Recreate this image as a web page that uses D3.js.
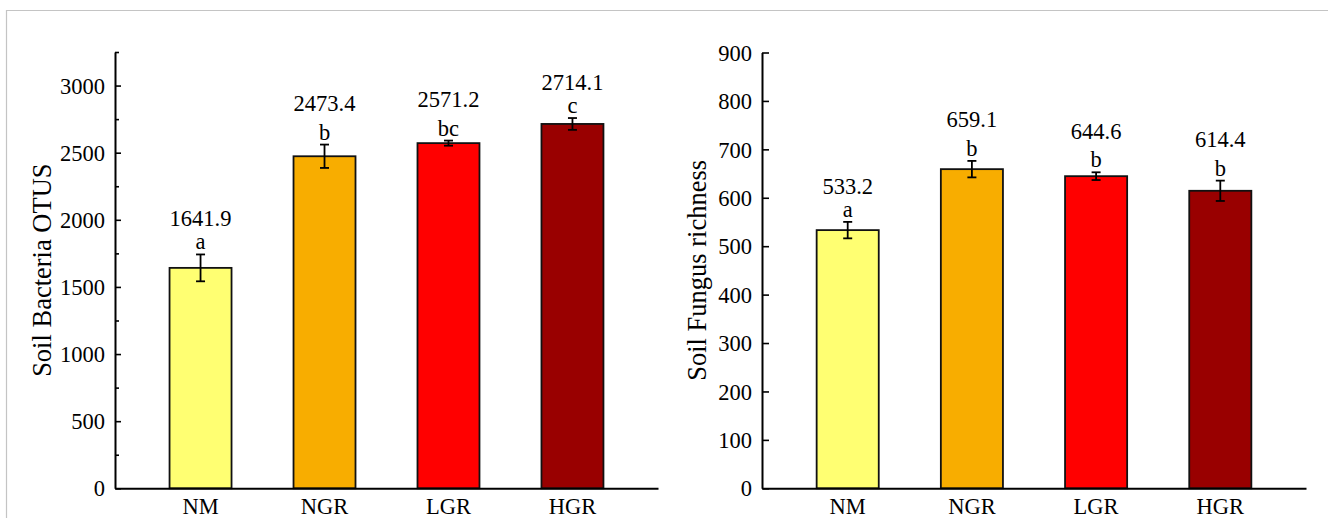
<!DOCTYPE html>
<html>
<head>
<meta charset="utf-8">
<script src="https://cdn.jsdelivr.net/npm/d3@7"></script>
<style>
  body { margin: 0; background: #fff; }
  text { font-family: "Liberation Serif", "Times New Roman", serif; fill: #000; }
</style>
</head>
<body>
<div id="chart"></div>
<script>
(function(){
"use strict"

// --- data ---
var groups = ["NM", "NGR", "LGR", "HGR"];
var barColors = ["#FFFF72", "#F8AD00", "#FF0000", "#990000"];

var bacteriaMean = [1641.9, 2473.4, 2571.2, 2714.1];
var bacteriaErr = [100, 87, 19, 44];
var bacteriaLetters = ["a", "b", "bc", "c"];
var bacteriaTicks = [0, 500, 1000, 1500, 2000, 2500, 3000];
var bacteriaMinor = [250, 750, 1250, 1750, 2250, 2750, 3250];

var fungusMean = [533.2, 659.1, 644.6, 614.4];
var fungusErr = [17, 17, 8, 21];
var fungusLetters = ["a", "b", "b", "b"];
var fungusTicks = [0, 100, 200, 300, 400, 500, 600, 700, 800, 900];

var W = 1328, H = 518;

var svg = d3.select('#chart').append('svg')
	.attr('width', W)
	.attr('height', H)
	.style('display', 'block');

svg.append('rect').attr('width', W).attr('height', H).style('fill', 'white');

// light grey frame (top and left edges visible)
svg.append('path')
	.attr('d', 'M6.5,' + H + 'V10.5H' + W)
	.style('fill', 'none')
	.style('stroke', '#c4c4c4')
	.style('stroke-width', 1.2);

var color = d3.scaleOrdinal().domain(groups).range(barColors);

var panels = [
	{ x0: 115, x1: 658, yTop: 52, max: 3250, mean: bacteriaMean, err: bacteriaErr,
	  letters: bacteriaLetters, ticks: bacteriaTicks, minor: bacteriaMinor, tickLen: 6,
	  title: "Soil Bacteria OTUS", titleOff: 64 },
	{ x0: 762, x1: 1306, yTop: 52.5, max: 900, mean: fungusMean, err: fungusErr,
	  letters: fungusLetters, ticks: fungusTicks, minor: [], tickLen: 7,
	  title: "Soil Fungus richness", titleOff: 56 }
];

var y0 = 488.3;

panels.forEach(function(p){
	var x = d3.scaleBand()
		.domain(groups)
		.range([p.x0, p.x1])
		.paddingInner(0.5)
		.paddingOuter(0.44);

	var y = d3.scaleLinear()
		.domain([0, p.max])
		.range([y0, p.yTop]);

	var g = svg.append('g');

	var rows = groups.map(function(k, i){
		return { key: k, v: p.mean[i], e: p.err[i], l: p.letters[i] };
	});

	// bars
	g.selectAll('rect.bar')
		.data(rows)
		.enter().append('rect')
			.attr('class', 'bar')
			.attr('x', function(d){ return x(d.key); })
			.attr('width', x.bandwidth())
			.attr('y', function(d){ return y(d.v); })
			.attr('height', function(d){ return y(0) - y(d.v); })
			.style('fill', function(d){ return color(d.key); })
			.style('stroke', '#111')
			.style('stroke-width', 1.8);

	// error bars
	var cx = function(d){ return x(d.key) + x.bandwidth() / 2; };
	var eb = g.selectAll('g.err')
		.data(rows)
		.enter().append('g')
			.attr('class', 'err')
			.style('stroke', '#000')
			.style('stroke-width', 1.8);
	eb.append('line')
		.attr('x1', cx).attr('x2', cx)
		.attr('y1', function(d){ return y(d.v + d.e); })
		.attr('y2', function(d){ return y(d.v - d.e); });
	eb.append('line')
		.attr('x1', function(d){ return cx(d) - 4.5; })
		.attr('x2', function(d){ return cx(d) + 4.5; })
		.attr('y1', function(d){ return y(d.v + d.e); })
		.attr('y2', function(d){ return y(d.v + d.e); });
	eb.append('line')
		.attr('x1', function(d){ return cx(d) - 4.5; })
		.attr('x2', function(d){ return cx(d) + 4.5; })
		.attr('y1', function(d){ return y(d.v - d.e); })
		.attr('y2', function(d){ return y(d.v - d.e); });

	// significance letters and values
	var letterY = function(d){ return y(d.v + d.e) - 5; };
	g.selectAll('text.letter')
		.data(rows)
		.enter().append('text')
			.attr('class', 'letter')
			.attr('x', cx)
			.attr('y', letterY)
			.attr('text-anchor', 'middle')
			.style('font-size', '22.5px')
			.text(function(d){ return d.l; });

	g.selectAll('text.val')
		.data(rows)
		.enter().append('text')
			.attr('class', 'val')
			.attr('x', cx)
			.attr('y', function(d){
				// tall letters (b, d...) push the value up a bit more
				return letterY(d) - (/[bdfhklt]/.test(d.l) ? 28.5 : 23);
			})
			.attr('text-anchor', 'middle')
			.style('font-size', '22.5px')
			.text(function(d){ return d.v.toFixed(1); });

	// y axis (ticks point inward)
	var yAxis = d3.axisLeft(y)
		.tickValues(p.ticks)
		.tickSizeInner(-p.tickLen)
		.tickSizeOuter(0)
		.tickPadding(10)
		.tickFormat(d3.format('d'));

	var ya = g.append('g')
		.attr('transform', 'translate(' + p.x0 + ',0)')
		.call(yAxis);
	ya.select('.domain').style('stroke-width', 2);
	ya.selectAll('.tick line').style('stroke-width', 1.6);
	ya.selectAll('.tick text')
		.style('font-family', '"Liberation Serif", serif')
		.style('font-size', '22.5px')
		.attr('dy', '0.34em');

	if (p.minor.length) {
		var ym = g.append('g')
			.attr('transform', 'translate(' + p.x0 + ',0)')
			.call(d3.axisLeft(y).tickValues(p.minor).tickSizeInner(-4).tickSizeOuter(0).tickFormat(''));
		ym.select('.domain').remove();
		ym.selectAll('.tick line').style('stroke-width', 1.6);
	}

	// x axis (line only, labels below)
	var xa = g.append('g')
		.attr('transform', 'translate(0,' + y0 + ')')
		.call(d3.axisBottom(x).tickSize(0).tickSizeOuter(0).tickPadding(0));
	xa.select('.domain').style('stroke-width', 2);
	xa.selectAll('.tick text')
		.style('font-family', '"Liberation Serif", serif')
		.style('font-size', '22.5px')
		.attr('dy', null)
		.attr('y', 26);

	// axis title
	g.append('text')
		.attr('transform', 'translate(' + (p.x0 - p.titleOff) + ',' + ((y0 + p.yTop) / 2) + ') rotate(-90)')
		.attr('text-anchor', 'middle')
		.style('font-size', '26.5px')
		.text(p.title);
});

})();
</script>
</body>
</html>
